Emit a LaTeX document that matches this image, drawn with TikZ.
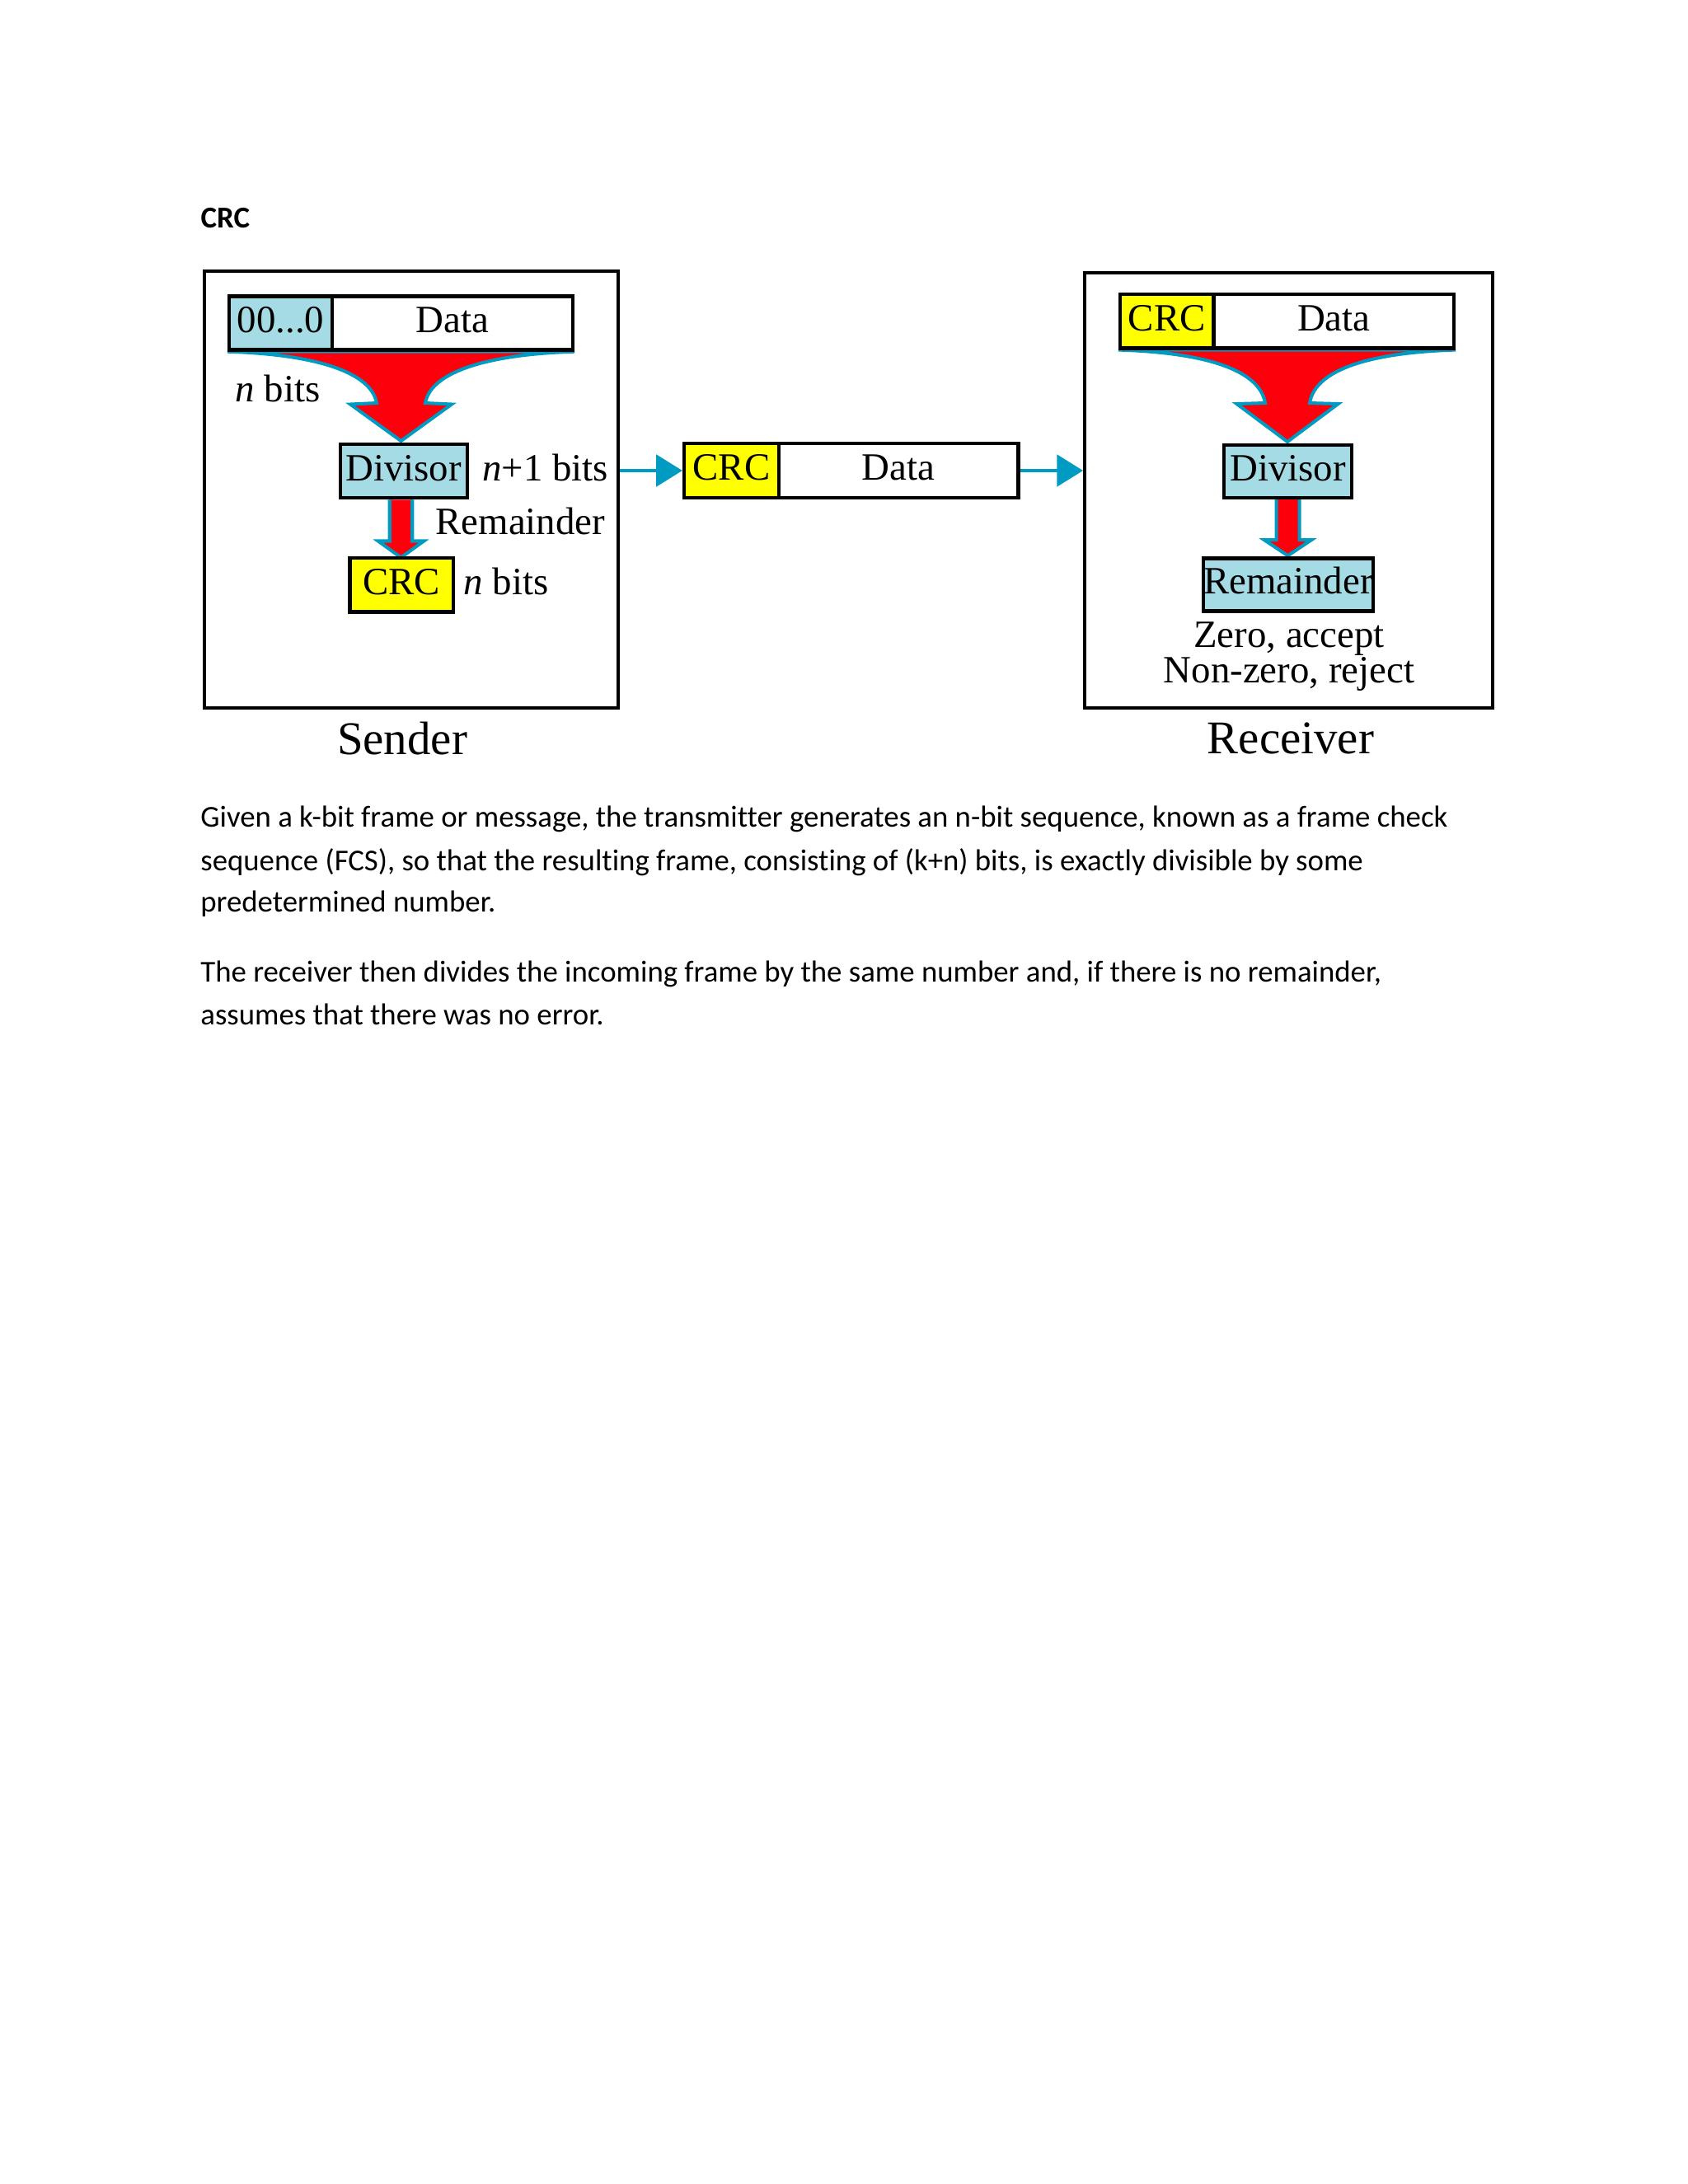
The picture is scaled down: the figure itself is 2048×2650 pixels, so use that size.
\documentclass[tikz,border=0pt]{standalone}
\usepackage{fontspec}
\setmainfont{Liberation Serif}
\newfontfamily\bodyfont[Ligatures={NoCommon}]{Carlito}
\usetikzlibrary{arrows.meta,calc}
\newdimen\pxu \pxu=0.298828pt
\definecolor{lblue}{RGB}{165,219,228}
\definecolor{cyanline}{RGB}{0,155,195}
\definecolor{redfill}{RGB}{252,0,12}
\definecolor{yel}{RGB}{255,255,0}
\pgfdeclarelayer{paper}
\pgfdeclarelayer{bg}
\pgfsetlayers{paper,bg,main}
\tikzset{
  cell/.style={draw=black, line width=1.3pt, rectangle, inner sep=0pt, text height=10pt, text depth=3.2pt, font=\fontsize{14}{16}\selectfont},
  outerbox/.style={draw=black, line width=1.2pt, rectangle, inner sep=0pt},
  lbl/.style={inner sep=0pt, anchor=base west, font=\fontsize{14}{16}\selectfont},
  clbl/.style={inner sep=0pt, anchor=base, font=\fontsize{14}{16}\selectfont},
  caption/.style={inner sep=0pt, anchor=base, font=\fontsize{17}{20}\selectfont},
  body/.style={inner sep=0pt, anchor=base west, font=\bodyfont\fontsize{11}{13}\selectfont},
  redarrow/.style={fill=redfill, draw=cyanline, line width=1.2pt, line join=miter},
  link/.style={draw=cyanline, line width=1.2pt, -{Triangle[length=9.5pt,width=11.5pt]}},
}
\begin{document}
\begin{tikzpicture}[x=0.298828pt, y=-0.298828pt]
\begin{pgfonlayer}{paper}
\useasboundingbox[fill=white] (0,0) rectangle (2048,2650);
\end{pgfonlayer}

% title
\node[body, font=\bodyfont\bfseries\fontsize{11}{13}\selectfont] (title) at (243,276.7) {CRC};

% ---------------- Sender ----------------
\node[outerbox, minimum width=502\pxu, minimum height=530\pxu] (sbox) at (499,594) {};
\node[cell, fill=lblue, minimum width=125\pxu, minimum height=65\pxu] (szero) at (340.5,392) {00...0};
\node[cell, fill=white, minimum width=292\pxu, minimum height=65\pxu] (sdata) at (549,392) {Data};
\node[cell, fill=lblue, minimum width=154\pxu, minimum height=65\pxu] (sdiv) at (489.7,571.8) {Divisor};
\node[cell, fill=yel, minimum width=125.4\pxu, minimum height=65.6\pxu] (scrc) at (487.3,709.8) {CRC};
\coordinate (stip) at (486.5,535);

\node[lbl] (nb1) at (285,487.6) {\textit{n} bits};
\node[lbl] (np1) at (584.7,583.5) {\textit{n}+1 bits};
\node[lbl] (srem) at (527.9,648.8) {Remainder};
\node[lbl] (nb2) at (562,721.6) {\textit{n} bits};
\node[caption] (slab) at (488,915) {Sender};

% ---------------- Middle frame ----------------
\node[cell, fill=yel, minimum width=114.7\pxu, minimum height=66\pxu] (mcrc) at (887.4,571) {CRC};
\node[cell, fill=white, minimum width=290.9\pxu, minimum height=66\pxu] (mdata) at (1090.15,571) {Data};

% ---------------- Receiver ----------------
\node[outerbox, minimum width=494.7\pxu, minimum height=528.4\pxu] (rbox) at (1563.4,594.8) {};
\node[cell, fill=yel, minimum width=113.5\pxu, minimum height=65.4\pxu] (rcrc) at (1415.75,389.7) {CRC};
\node[cell, fill=white, minimum width=291.5\pxu, minimum height=65.4\pxu] (rdata) at (1618.25,389.7) {Data};
\node[cell, fill=lblue, minimum width=155\pxu, minimum height=64\pxu] (rdiv) at (1562.5,572) {Divisor};
\node[cell, fill=lblue, minimum width=206\pxu, minimum height=64\pxu] (rrem) at (1563,709.6) {Remainder};
\coordinate (rtip) at (1562,536);

\node[clbl] (zacc) at (1564,785.7) {Zero, accept};
\node[clbl] (nzrej) at (1564,828.6) {Non-zero, reject};
\node[caption] (rlab) at (1566,914) {Receiver};

% ---------------- connectors ----------------
\draw[link] (sbox.east |- mcrc.west) -- (mcrc.west);
\draw[link] (mdata.east) -- (rbox.west |- mdata.east);

\begin{pgfonlayer}{bg}
% sender funnel
\path[redarrow] (szero.south west) .. controls +(102,3) and +(-7,-39) .. ($(stip)+(-29.5,-46)$)
  -- ($(stip)+(-61.5,-44.5)$) -- (stip) -- ($(stip)+(61.5,-44.5)$) -- ($(stip)+(29.5,-46)$)
  .. controls +(7,-39) and +(-102,3) .. (sdata.south east) -- cycle;
% sender small arrow
\path[redarrow] (sdiv.south -| stip) ++(-13.75,0) -- ++(0,50) -- ++(-14,0) -- ++(27.75,20)
  -- ++(27.75,-20) -- ++(-14,0) -- ++(0,-50);
% receiver funnel
\path[redarrow] (rcrc.south west) .. controls +(100,3) and +(-7,-42) .. ($(rtip)+(-27,-47)$)
  -- ($(rtip)+(-61.5,-46)$) -- (rtip) -- ($(rtip)+(61.5,-46)$) -- ($(rtip)+(27,-47)$)
  .. controls +(7,-42) and +(-100,3) .. (rdata.south east) -- cycle;
% receiver small arrow
\path[redarrow] (rdiv.south) ++(-14,0) -- ++(0,49) -- ++(-14.5,0) -- ++(28.5,19)
  -- ++(28.5,-19) -- ++(-14.5,0) -- ++(0,-49);
\end{pgfonlayer}

% ---------------- body text ----------------
\node[body] (p1) at (242.7,1003.3) {Given a k-bit frame or message, the transmitter generates an n-bit sequence, known as a frame check};
\node[body] (p2) at (242.7,1056) {sequence (FCS), so that the resulting frame, consisting of (k+n) bits, is exactly divisible by some};
\node[body] (p3) at (242.7,1106.7) {predetermined number.};
\node[body] (p4) at (242.7,1191.7) {The receiver then divides the incoming frame by the same number and, if there is no remainder,};
\node[body] (p5) at (242.7,1243.3) {assumes that there was no error.};
\end{tikzpicture}
\end{document}
